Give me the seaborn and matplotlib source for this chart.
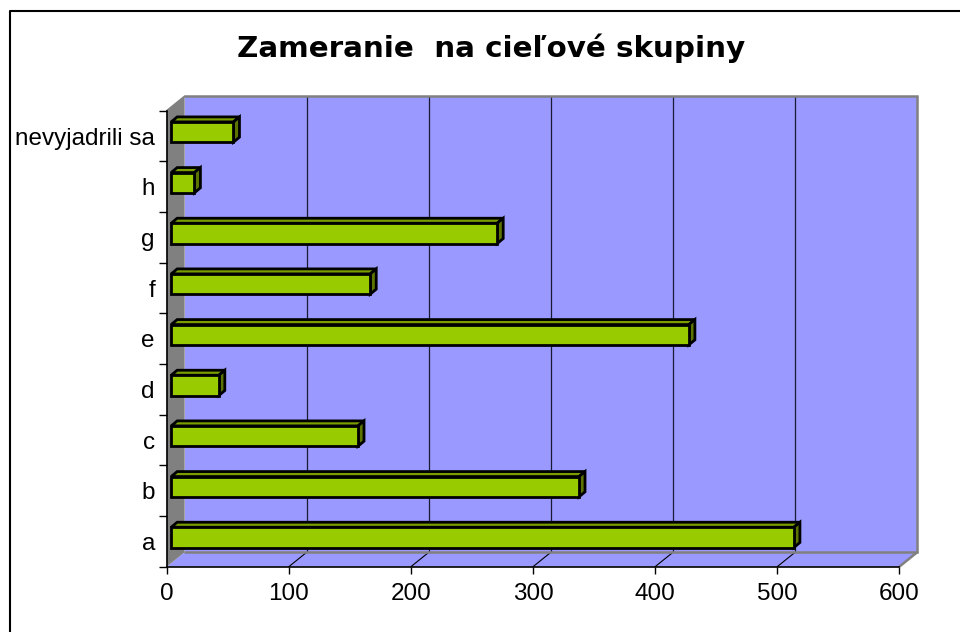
import matplotlib
matplotlib.use("Agg")
import matplotlib.pyplot as plt
from matplotlib.patches import Polygon, Rectangle
from matplotlib.lines import Line2D
import seaborn as sns

# Data
categories = ["a", "b", "c", "d", "e", "f", "g", "h", "nevyjadrili sa"]
values = [510, 334, 153, 39, 424, 163, 267, 19, 51]
x_ticks = [0, 100, 200, 300, 400, 500, 600]
title = "Zameranie  na cieľové skupiny"

BAR_FRONT = "#99CC00"
BAR_TOP = "#7A9E00"
BAR_SIDE = "#5C7400"
WALL = "#9999FF"
SIDE_WALL = "#808080"

sns.set_style("white")
plt.rcParams["font.family"] = ["Liberation Sans", "DejaVu Sans"]
plt.rcParams["text.color"] = "black"
plt.rcParams["xtick.color"] = "black"
plt.rcParams["ytick.color"] = "black"
plt.rcParams["axes.labelcolor"] = "black"

W, H = 960, 632
fig = plt.figure(figsize=(W / 100, H / 100), dpi=100)
ax = fig.add_axes([166.7 / W, (H - 566.7) / H, (899.3 - 166.7) / W, (566.7 - 110.7) / H])
ax.set_facecolor("none")

order = categories[::-1]
sns.barplot(x=values, y=categories, order=order, orient="h", color=BAR_FRONT,
            saturation=1, edgecolor="black", linewidth=2, width=0.40, ax=ax, zorder=5)

ax.set_xlim(0, 600)
ax.set_ylim(len(categories) - 0.5, -0.5)

# pixel -> data conversion (x to the right, y upward on screen)
ax_w = (899.3 - 166.7)
ax_h = (566.7 - 110.7)
sx = ax_w / 600.0
sy = ax_h / len(categories)
def off(px, py):
    return px / sx, -py / sy

y_top, y_bot = -0.5, len(categories) - 0.5
DX, DY = off(18, 14.5)

# back wall
ax.add_patch(Rectangle((DX, y_top + DY), 600, y_bot - y_top, facecolor=WALL,
                       edgecolor="none", clip_on=False, zorder=0))
# floor
ax.add_patch(Polygon([(0, y_bot), (600, y_bot), (600 + DX, y_bot + DY), (DX, y_bot + DY)],
                     closed=True, facecolor=WALL, edgecolor="none", clip_on=False, zorder=0))
# left side wall
ax.add_patch(Polygon([(0, y_top), (DX, y_top + DY), (DX, y_bot + DY), (0, y_bot)],
                     closed=True, facecolor=SIDE_WALL, edgecolor="none", clip_on=False, zorder=0.5))

# gridlines on the back wall and floor
for t in x_ticks[1:-1]:
    ax.add_line(Line2D([t + DX, t + DX], [y_top + DY, y_bot + DY], color="#1a1a33", lw=0.9,
                       clip_on=False, zorder=1))
    ax.add_line(Line2D([t, t + DX], [y_bot, y_bot + DY], color="black", lw=0.8,
                       clip_on=False, zorder=1))

# wall outline (top, right, bottom of back wall; right edge of floor)
ax.add_line(Line2D([DX, 600 + DX, 600 + DX, DX], [y_top + DY, y_top + DY, y_bot + DY, y_bot + DY],
                   color=SIDE_WALL, lw=1.8, clip_on=False, zorder=1.5, solid_joinstyle="miter"))
ax.add_line(Line2D([600, 600 + DX], [y_bot, y_bot + DY], color=SIDE_WALL, lw=1.8,
                   clip_on=False, zorder=1.5))
ax.add_line(Line2D([0, DX], [y_top, y_top + DY], color=SIDE_WALL, lw=1.2,
                   clip_on=False, zorder=1.5))

# bars: move into depth and add top / side faces
fdx, fdy = off(4.5, 4)
bdx, bdy = off(6, 5)
for p in ax.patches:
    if p.get_facecolor()[:3] != matplotlib.colors.to_rgb(BAR_FRONT):
        continue
    p.set_x(p.get_x() + fdx)
    p.set_y(p.get_y() + fdy)
    x0, x1 = p.get_x(), p.get_x() + p.get_width()
    y0, y1 = p.get_y(), p.get_y() + p.get_height()
    top = Polygon([(x0, y0), (x1, y0), (x1 + bdx, y0 + bdy), (x0 + bdx, y0 + bdy)], closed=True,
                  facecolor=BAR_TOP, edgecolor="black", lw=2, joinstyle="miter", zorder=4)
    side = Polygon([(x1, y0), (x1 + bdx, y0 + bdy), (x1 + bdx, y1 + bdy), (x1, y1)], closed=True,
                   facecolor=BAR_SIDE, edgecolor="black", lw=2, joinstyle="miter", zorder=4)
    ax.add_patch(top)
    ax.add_patch(side)
    p.set_joinstyle("miter")

# axes styling
for s in ["top", "right"]:
    ax.spines[s].set_visible(False)
for s in ["left", "bottom"]:
    ax.spines[s].set_color("black")
    ax.spines[s].set_linewidth(1.2)
    ax.spines[s].set_zorder(6)

ax.set_xticks(x_ticks)
ax.set_xticklabels([str(t) for t in x_ticks])
ax.set_yticks(range(len(order)))
ax.set_yticklabels(order)
ax.set_yticks([i - 0.5 for i in range(len(order) + 1)], minor=True)
ax.tick_params(axis="x", which="major", direction="out", length=5.2, width=1, color="black",
               pad=6.5, labelsize=17.5, bottom=True)
ax.tick_params(axis="y", which="major", length=0, pad=8.5, labelsize=17.5, left=True)
ax.tick_params(axis="y", which="minor", direction="out", length=5.8, width=1, color="black", left=True)
ax.set_xlabel("")
ax.set_ylabel("")
ax.grid(False)

fig.text(491 / W, 1 - 57 / H, title, ha="center", va="baseline", fontsize=21.2,
         fontweight="bold", family=["DejaVu Sans"], color="black")

# chart area border
fig.add_artist(Line2D([9.5 / W, 9.5 / W, 1.0], [0.0, 1 - 11 / H, 1 - 11 / H],
                      transform=fig.transFigure, color="black", lw=1.5))

fig.savefig("out.png", dpi=100)
